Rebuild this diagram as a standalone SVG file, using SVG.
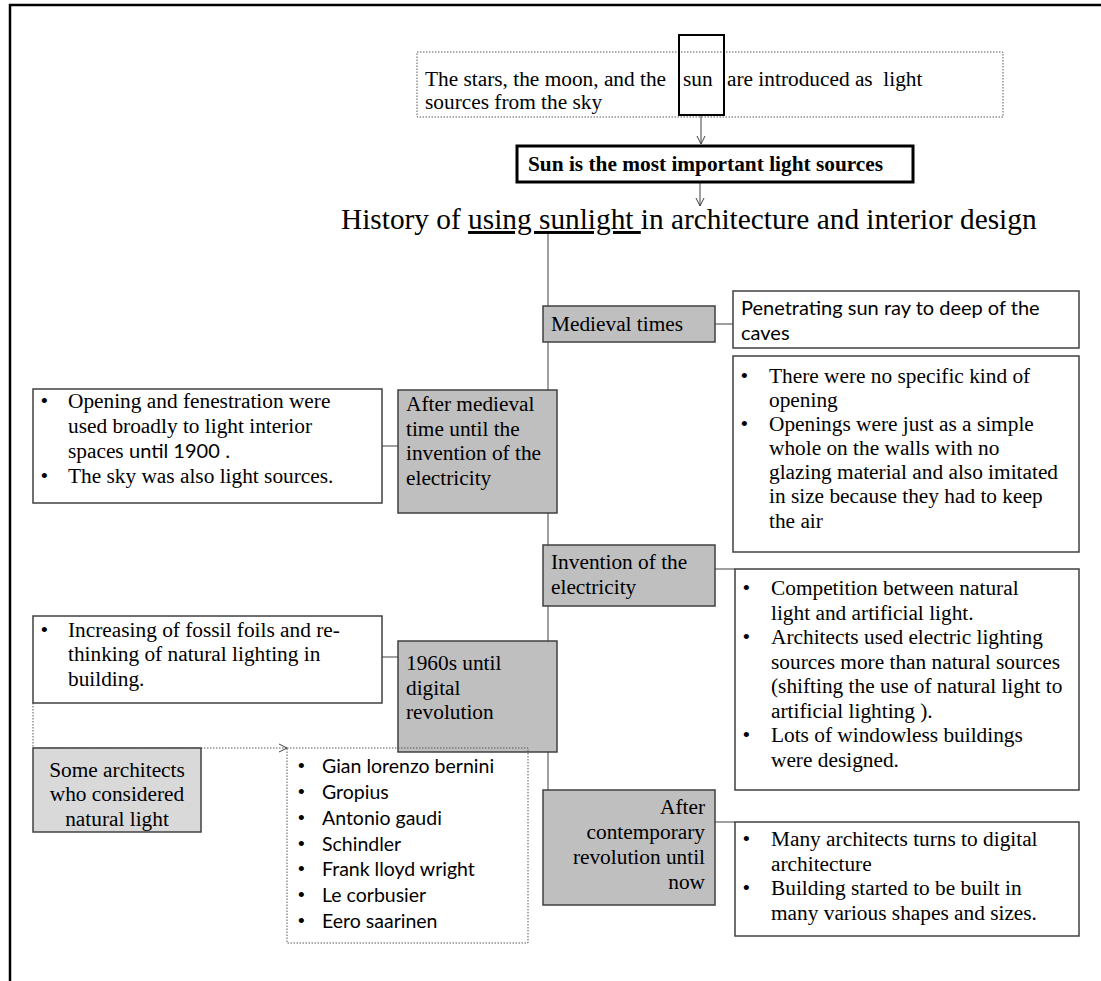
<svg xmlns="http://www.w3.org/2000/svg" width="1101" height="981" viewBox="0 0 1101 981">
  <defs>
    <marker id="open-arrow" markerWidth="12" markerHeight="12" refX="9" refY="5" orient="auto" markerUnits="userSpaceOnUse">
      <path d="M1,1 L9,5 L1,9" fill="none" stroke="#404040" stroke-width="1"/>
    </marker>
    <style>
      .serif { font-family: "Liberation Serif", "Times New Roman", serif; font-size: 21.33px; fill: #000; }
      .sans { font-family: Lato, "Liberation Sans", sans-serif; font-size: 20px; fill: #000; }
      .names { font-family: Lato, "Liberation Sans", sans-serif; font-size: 19.5px; fill: #000; }
      .dot { font-family: "Liberation Sans", Arial, sans-serif; font-size: 19px; fill: #000; }
      .stage { fill: #bfbfbf; stroke: #404040; stroke-width: 1.5; }
      .stage-light { fill: #d9d9d9; stroke: #404040; stroke-width: 1.5; }
      .note { fill: #fff; stroke: #404040; stroke-width: 1.5; }
      .link { stroke: #7f7f7f; stroke-width: 1.5; fill: none; }
      .arrow { stroke: #404040; stroke-width: 1; fill: none; }
      .dotted { stroke: #595959; stroke-width: 1; stroke-dasharray: 1.5 1.5; fill: none; }
    </style>
  </defs>

  <rect width="1101" height="981" fill="#fff"/>

  <!-- page frame -->
  <path d="M10,981 V5 H1101" fill="none" stroke="#000" stroke-width="2.5"/>

  <!-- connectors -->
  <g id="connectors">
    <line class="arrow" x1="701" y1="115" x2="701" y2="144" marker-end="url(#open-arrow)"/>
    <line class="arrow" x1="700" y1="183" x2="700" y2="206" marker-end="url(#open-arrow)"/>
    <line class="link" x1="548" y1="233" x2="548" y2="790"/>
    <line class="link" x1="715" y1="324" x2="733" y2="324"/>
    <line class="link" x1="382" y1="446" x2="398" y2="446"/>
    <line class="link" x1="715" y1="569" x2="735" y2="569"/>
    <line class="link" x1="382" y1="657" x2="398" y2="657"/>
    <line class="link" x1="715" y1="822" x2="735" y2="822"/>
    <path class="dotted" d="M33,703 V748 H287" marker-end="url(#open-arrow)"/>
  </g>

  <!-- sky light sources -->
  <g id="sky-sources">
    <rect class="dotted" x="417" y="52" width="586" height="65"/>
    <text class="serif" x="425" y="86">The stars, the moon, and the <tspan x="683">sun</tspan><tspan x="727">are introduced as&#160; light</tspan></text>
    <text class="serif" x="425" y="109">sources from the sky</text>
  </g>

  <g id="sun-highlight">
    <rect x="679" y="35" width="45" height="80" fill="none" stroke="#000" stroke-width="2"/>
  </g>

  <g id="sun-main">
    <rect x="517" y="146" width="396" height="36" fill="#fff" stroke="#000" stroke-width="3"/>
    <text class="serif" x="528" y="171" font-weight="bold">Sun is the most important light sources</text>
  </g>

  <g id="title">
    <text class="serif" x="341" y="229" style="font-size:29.33px">History of <tspan text-decoration="underline">using sunlight </tspan>in architecture and interior design</text>
  </g>

  <!-- stage: medieval times -->
  <g id="medieval">
    <rect class="stage" x="543" y="306" width="172" height="36"/>
    <text class="serif" x="551" y="331">Medieval times</text>
  </g>
  <g id="medieval-note-1">
    <rect class="note" x="733" y="291" width="346" height="57"/>
    <text class="sans" x="741" y="315">Penetrating sun ray to deep of the</text>
    <text class="sans" x="741" y="340">caves</text>
  </g>
  <g id="medieval-note-2">
    <rect class="note" x="733" y="356" width="346" height="196"/>
    <text class="dot" x="741" y="382">•</text>
    <text class="dot" x="741" y="430">•</text>
    <text class="serif" x="769" y="383">There were no specific kind of</text>
    <text class="serif" x="769" y="407">opening</text>
    <text class="serif" x="769" y="431">Openings were just as a simple</text>
    <text class="serif" x="769" y="455">whole on the walls with no</text>
    <text class="serif" x="769" y="479">glazing material and also imitated</text>
    <text class="serif" x="769" y="503">in size because they had to keep</text>
    <text class="serif" x="769" y="528">the air</text>
  </g>

  <!-- stage: after medieval -->
  <g id="after-medieval">
    <rect class="stage" x="398" y="390" width="159" height="123"/>
    <text class="serif" x="406" y="411">After medieval</text>
    <text class="serif" x="406" y="435.5">time until the</text>
    <text class="serif" x="406" y="460">invention of the</text>
    <text class="serif" x="406" y="484.5">electricity</text>
  </g>
  <g id="after-medieval-note">
    <rect class="note" x="33" y="389" width="349" height="114"/>
    <text class="dot" x="41" y="407">•</text>
    <text class="dot" x="41" y="482">•</text>
    <text class="serif" x="68" y="408">Opening and fenestration were</text>
    <text class="serif" x="68" y="433">used broadly to light interior</text>
    <text class="serif" x="68" y="458">spaces <tspan class="sans" style="font-size:20px">until 1900</tspan> .</text>
    <text class="serif" x="68" y="483">The sky was also light sources.</text>
  </g>

  <!-- stage: electricity -->
  <g id="electricity">
    <rect class="stage" x="543" y="545" width="172" height="61"/>
    <text class="serif" x="551" y="569">Invention of the</text>
    <text class="serif" x="551" y="594">electricity</text>
  </g>
  <g id="electricity-note">
    <rect class="note" x="735" y="569" width="344" height="221"/>
    <text class="dot" x="743" y="594">•</text>
    <text class="dot" x="743" y="643">•</text>
    <text class="dot" x="743" y="741">•</text>
    <text class="serif" x="771" y="595">Competition between natural</text>
    <text class="serif" x="771" y="619.5">light and artificial light.</text>
    <text class="serif" x="771" y="644">Architects used electric lighting</text>
    <text class="serif" x="771" y="668.5">sources more than natural sources</text>
    <text class="serif" x="771" y="693">(shifting the use of natural light to</text>
    <text class="serif" x="771" y="717.5">artificial lighting ).</text>
    <text class="serif" x="771" y="742">Lots of windowless buildings</text>
    <text class="serif" x="771" y="766.5">were designed.</text>
  </g>

  <!-- stage: 1960s -->
  <g id="sixties">
    <rect class="stage" x="398" y="641" width="159" height="111"/>
    <text class="serif" x="406" y="670">1960s until</text>
    <text class="serif" x="406" y="695">digital</text>
    <text class="serif" x="406" y="719">revolution</text>
  </g>
  <g id="sixties-note">
    <rect class="note" x="33" y="616" width="349" height="87"/>
    <text class="dot" x="41" y="636">•</text>
    <text class="serif" x="68" y="637">Increasing of fossil foils and re-</text>
    <text class="serif" x="68" y="661">thinking of natural lighting in</text>
    <text class="serif" x="68" y="686">building.</text>
  </g>

  <!-- architects -->
  <g id="architects">
    <rect class="stage-light" x="33" y="748" width="168" height="84"/>
    <text class="serif" x="117" y="777" text-anchor="middle">Some architects</text>
    <text class="serif" x="117" y="801" text-anchor="middle">who considered</text>
    <text class="serif" x="117" y="826" text-anchor="middle">natural light</text>
  </g>
  <g id="architect-list">
    <rect class="dotted" x="287" y="748" width="241" height="195"/>
    <text class="dot" x="298" y="772">•</text>
    <text class="dot" x="298" y="798">•</text>
    <text class="dot" x="298" y="824">•</text>
    <text class="dot" x="298" y="850">•</text>
    <text class="dot" x="298" y="875">•</text>
    <text class="dot" x="298" y="901">•</text>
    <text class="dot" x="298" y="927">•</text>
    <text class="names" x="322" y="773">Gian lorenzo bernini</text>
    <text class="names" x="322" y="799">Gropius</text>
    <text class="names" x="322" y="825">Antonio gaudi</text>
    <text class="names" x="322" y="851">Schindler</text>
    <text class="names" x="322" y="876">Frank lloyd wright</text>
    <text class="names" x="322" y="902">Le corbusier</text>
    <text class="names" x="322" y="928">Eero saarinen</text>
  </g>

  <!-- stage: contemporary -->
  <g id="contemporary">
    <rect class="stage" x="543" y="790" width="172" height="115"/>
    <text class="serif" x="705" y="814" text-anchor="end">After</text>
    <text class="serif" x="705" y="839" text-anchor="end">contemporary</text>
    <text class="serif" x="705" y="864" text-anchor="end">revolution until</text>
    <text class="serif" x="705" y="889" text-anchor="end">now</text>
  </g>
  <g id="contemporary-note">
    <rect class="note" x="735" y="822" width="344" height="114"/>
    <text class="dot" x="743" y="845">•</text>
    <text class="dot" x="743" y="894">•</text>
    <text class="serif" x="771" y="846">Many architects turns to digital</text>
    <text class="serif" x="771" y="871">architecture</text>
    <text class="serif" x="771" y="895">Building started to be built in</text>
    <text class="serif" x="771" y="920">many various shapes and sizes.</text>
  </g>
</svg>
